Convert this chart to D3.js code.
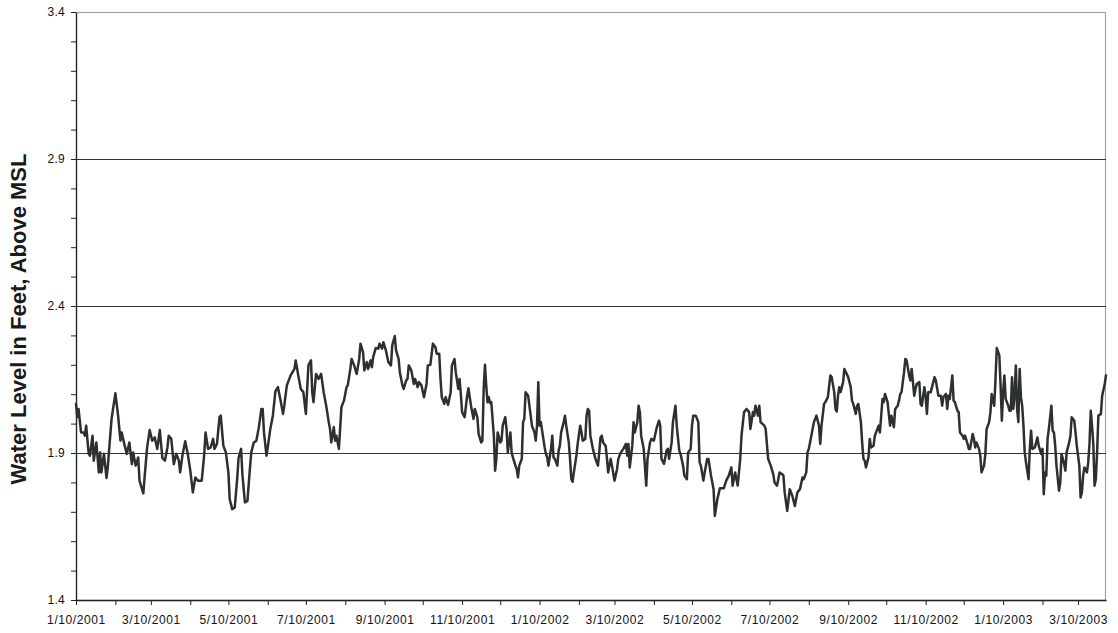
<!DOCTYPE html>
<html>
<head>
<meta charset="utf-8">
<script src="https://cdn.jsdelivr.net/npm/d3@7"></script>
<style>
  html, body { margin: 0; padding: 0; background: #ffffff; }
  svg { display: block; font-family: "Liberation Sans", Arial, Helvetica, sans-serif; }
</style>
</head>
<body>
<svg id="chart" width="1118" height="633"></svg>
<script>
// Gauge record: water level (ft above MSL), days counted from the first reading.
const startDate = "1/10/2001";

const dayOffset = [
  0, 1, 2, 4, 6, 7, 8, 10, 11, 13, 14, 16, 18, 19, 20, 22, 24, 25, 28, 31,
  33, 35, 36, 38, 40, 42, 44, 45, 47, 49, 50, 53, 54, 56, 58, 60, 62, 64, 66, 68,
  70, 72, 73, 75, 77, 79, 81, 82, 84, 86, 88, 90, 92, 94, 96, 99, 101, 102, 104, 106,
  108, 109, 111, 113, 114, 116, 118, 120, 121, 123, 125, 127, 128, 130, 131, 133, 135, 137, 138, 140,
  142, 144, 146, 147, 148, 150, 151, 153, 155, 157, 159, 161, 163, 164, 166, 169, 172, 173, 175, 177,
  179, 181, 183, 185, 186, 187, 189, 191, 193, 195, 197, 199, 200, 201, 203, 204, 205, 207, 209, 211,
  213, 214, 216, 217, 219, 221, 223, 224, 226, 227, 229, 230, 232, 233, 234, 236, 238, 239, 241, 242,
  244, 246, 248, 249, 251, 252, 254, 255, 257, 258, 260, 261, 262, 264, 266, 267, 269, 270, 272, 274,
  276, 277, 279, 281, 283, 284, 286, 287, 288, 290, 291, 293, 295, 296, 298, 299, 301, 302, 303, 304,
  306, 308, 309, 311, 313, 314, 316, 317, 319, 320, 321, 322, 323, 324, 325, 326, 327, 329, 330, 331,
  332, 334, 335, 336, 338, 339, 340, 342, 343, 344, 346, 347, 348, 349, 351, 352, 353, 354, 356, 357,
  358, 359, 361, 362, 363, 364, 365, 366, 368, 369, 370, 371, 372, 374, 375, 376, 377, 379, 380, 381,
  382, 384, 385, 386, 388, 389, 390, 391, 392, 394, 395, 397, 398, 399, 401, 402, 403, 404, 405, 407,
  409, 411, 412, 413, 414, 415, 417, 418, 419, 421, 422, 424, 426, 427, 429, 431, 433, 434, 435, 436,
  438, 439, 440, 442, 443, 444, 445, 447, 449, 450, 452, 453, 455, 457, 459, 460, 461, 463, 465, 466,
  467, 469, 470, 472, 473, 475, 476, 478, 479, 481, 482, 484, 485, 486, 488, 490, 491, 492, 494, 495,
  497, 498, 500, 502, 503, 505, 507, 510, 512, 514, 516, 517, 519, 521, 523, 524, 526, 528, 530, 531,
  533, 534, 535, 537, 538, 539, 542, 543, 545, 547, 549, 550, 552, 554, 556, 557, 558, 560, 562, 564,
  566, 568, 570, 572, 573, 575, 576, 577, 579, 581, 583, 585, 586, 587, 589, 590, 592, 594, 595, 597,
  598, 599, 600, 601, 602, 604, 605, 608, 610, 611, 612, 614, 615, 616, 618, 619, 620, 621, 622, 624,
  625, 626, 628, 629, 631, 632, 633, 635, 636, 637, 639, 640, 641, 642, 644, 645, 647, 648, 649, 650,
  652, 653, 654, 656, 657, 658, 660, 661, 662, 664, 665, 666, 668, 669, 670, 671, 673, 674, 676, 677,
  679, 681, 682, 683, 685, 686, 687, 688, 690, 691, 692, 694, 695, 696, 698, 699, 700, 702, 703, 704,
  706, 707, 708, 709, 711, 712, 713, 715, 716, 717, 719, 720, 721, 723, 724, 725, 727, 728, 729, 730,
  731, 732, 734, 735, 736, 737, 738, 739, 740, 741, 742, 743, 744, 745, 746, 747, 748, 750, 751, 752,
  753, 755, 756, 757, 758, 760, 761, 762, 763, 764, 765, 766, 768, 769, 770, 771, 772, 774, 775, 776,
  778, 779, 780, 782, 783, 784, 786, 787, 788, 790, 791, 792, 793, 794, 796, 797, 798, 799, 800, 801,
  802, 803, 804, 805, 807, 808, 810, 811
];

const waterLevel = [
  2.067, 2.022, 2.05, 1.97, 1.97, 1.959, 1.993, 1.897, 1.891, 1.959, 1.874, 1.936, 1.834, 1.902, 1.834, 1.897, 1.815, 1.851, 2.016, 2.103,
  2.033, 1.942, 1.97, 1.931, 1.897, 1.936, 1.862, 1.902, 1.857, 1.885, 1.806, 1.763, 1.817, 1.919, 1.978, 1.942, 1.953, 1.914, 1.978, 1.883,
  1.874, 1.919, 1.959, 1.948, 1.862, 1.897, 1.874, 1.834, 1.897, 1.94, 1.897, 1.84, 1.766, 1.817, 1.806, 1.806, 1.897, 1.97, 1.914, 1.919,
  1.948, 1.914, 1.931, 2.022, 2.027, 1.925, 1.902, 1.834, 1.743, 1.709, 1.715, 1.817, 1.883, 1.914, 1.828, 1.732, 1.737, 1.851, 1.902, 1.936,
  1.942, 1.988, 2.05, 2.05, 1.97, 1.891, 1.919, 1.982, 2.027, 2.11, 2.124, 2.08, 2.033, 2.061, 2.13, 2.164, 2.186, 2.215, 2.164, 2.118,
  2.107, 2.033, 2.198, 2.215, 2.107, 2.073, 2.169, 2.152, 2.169, 2.107, 2.061, 2.005, 1.982, 1.936, 1.988, 1.942, 1.959, 1.914, 2.056, 2.078,
  2.124, 2.13, 2.186, 2.22, 2.198, 2.169, 2.22, 2.272, 2.243, 2.181, 2.209, 2.186, 2.215, 2.192, 2.226, 2.257, 2.255, 2.272, 2.255, 2.277,
  2.249, 2.209, 2.198, 2.266, 2.298, 2.249, 2.22, 2.175, 2.13, 2.118, 2.147, 2.152, 2.198, 2.181, 2.135, 2.152, 2.124, 2.141, 2.13, 2.09,
  2.135, 2.198, 2.2, 2.272, 2.26, 2.238, 2.238, 2.152, 2.09, 2.067, 2.09, 2.064, 2.107, 2.198, 2.22, 2.175, 2.118, 2.152, 2.101, 2.039,
  2.022, 2.095, 2.12, 2.061, 2.016, 2.05, 2.022, 1.965, 1.936, 1.942, 2.118, 2.2, 2.13, 2.073, 2.09, 2.07, 2.073, 1.959, 1.84, 1.88,
  1.97, 1.936, 1.942, 1.993, 2.022, 1.982, 1.902, 1.97, 1.902, 1.885, 1.857, 1.845, 1.817, 1.857, 1.88, 2.005, 2.016, 2.107, 2.095, 2.061,
  2.027, 1.993, 1.97, 1.942, 1.993, 2.141, 1.993, 2.005, 1.948, 1.919, 1.897, 1.885, 1.857, 1.914, 1.959, 1.885, 1.88, 1.857, 1.908, 1.925,
  1.97, 2.005, 2.027, 1.993, 1.936, 1.88, 1.811, 1.802, 1.834, 1.891, 1.931, 1.993, 1.97, 1.942, 1.948, 2.027, 2.05, 2.044, 1.959, 1.914,
  1.88, 1.857, 1.902, 1.953, 1.959, 1.936, 1.925, 1.885, 1.834, 1.88, 1.857, 1.806, 1.845, 1.88, 1.902, 1.914, 1.931, 1.891, 1.931, 1.851,
  1.925, 2.005, 1.97, 2.005, 2.061, 2.039, 1.959, 1.914, 1.789, 1.88, 1.936, 1.948, 1.942, 1.982, 2.01, 1.993, 1.88, 1.863, 1.908, 1.914,
  1.88, 1.936, 2.005, 2.061, 1.993, 1.908, 1.897, 1.857, 1.823, 1.811, 1.902, 1.914, 1.993, 2.027, 2.027, 2.005, 1.868, 1.857, 1.806, 1.834,
  1.88, 1.88, 1.823, 1.777, 1.686, 1.743, 1.78, 1.78, 1.806, 1.823, 1.851, 1.789, 1.834, 1.789, 1.88, 1.959, 2.039, 2.05, 2.039, 1.982,
  2.039, 2.027, 2.061, 2.027, 2.061, 2.005, 1.993, 1.982, 1.88, 1.857, 1.828, 1.8, 1.789, 1.834, 1.828, 1.823, 1.766, 1.703, 1.777, 1.755,
  1.72, 1.766, 1.777, 1.817, 1.811, 1.834, 1.902, 1.914, 1.959, 2.005, 2.027, 1.993, 1.931, 1.993, 2.067, 2.073, 2.09, 2.164, 2.158, 2.107,
  2.05, 2.041, 2.095, 2.124, 2.107, 2.141, 2.186, 2.158, 2.124, 2.078, 2.067, 2.033, 2.061, 2.067, 2.005, 1.936, 1.88, 1.874, 1.851, 1.885,
  1.948, 1.919, 1.925, 1.959, 1.982, 1.993, 1.97, 2.084, 2.073, 2.101, 2.073, 2.033, 1.993, 2.027, 1.988, 2.05, 2.061, 2.078, 2.101, 2.107,
  2.175, 2.22, 2.215, 2.164, 2.147, 2.186, 2.095, 2.118, 2.135, 2.141, 2.067, 2.061, 2.124, 2.09, 2.033, 2.107, 2.107, 2.124, 2.158, 2.147,
  2.095, 2.095, 2.061, 2.09, 2.101, 2.05, 2.095, 2.084, 2.164, 2.078, 2.073, 2.044, 2.039, 1.97, 1.959, 1.948, 1.959, 1.931, 1.914, 1.914,
  1.965, 1.948, 1.919, 1.936, 1.914, 1.891, 1.834, 1.857, 1.897, 1.982, 2.005, 2.039, 2.101, 2.061, 2.152, 2.257, 2.232, 2.13, 2.01, 2.107,
  2.164, 2.084, 2.061, 2.044, 2.044, 2.158, 2.05, 2.095, 2.198, 2.05, 2.005, 2.186, 2.09, 2.061, 1.993, 1.902, 1.868, 1.811, 1.914, 1.976,
  1.914, 1.919, 1.936, 1.953, 1.925, 1.897, 1.914, 1.76, 1.834, 1.823, 1.948, 1.982, 2.061, 1.976, 1.97, 1.925, 1.857, 1.772, 1.8, 1.897,
  1.863, 1.84, 1.902, 1.936, 1.959, 2.022, 2.01, 1.97, 1.925, 1.857, 1.749, 1.766, 1.823, 1.851, 1.834, 1.868, 1.931, 2.044, 1.993, 1.931,
  1.789, 1.811, 1.902, 2.027, 2.033, 2.095, 2.135, 2.164
];

// Axis settings
const levelDomain = [1.4, 3.4];
const levelLabels = ["1.4", "1.9", "2.4", "2.9", "3.4"];
const gridLevels = [1.9, 2.4, 2.9];
const dateLabels = [
  "1/10/2001", "3/10/2001", "5/10/2001", "7/10/2001", "9/10/2001", "11/10/2001",
  "1/10/2002", "3/10/2002", "5/10/2002", "7/10/2002", "9/10/2002", "11/10/2002",
  "1/10/2003", "3/10/2003"
];
const axisTitle = "Water Level in Feet, Above MSL";

// ---------------------------------------------------------------------------
const margin = { top: 12, right: 12, bottom: 33, left: 76 };
const svg = d3.select("#chart");
const W = +svg.attr("width"), H = +svg.attr("height");
const width = W - margin.left - margin.right;
const height = H - margin.top - margin.bottom;

const parseDate = d3.timeParse("%m/%d/%Y");
const start = parseDate(startDate);
const records = dayOffset.map((d, i) => ({ date: d3.timeDay.offset(start, d), level: waterLevel[i] }));

const x = d3.scaleTime().domain(d3.extent(records, d => d.date)).range([0, width]);
const y = d3.scaleLinear().domain(levelDomain).range([height, 0]);

const g = svg.append("g").attr("transform", `translate(${margin.left},${margin.top})`);

// Plot frame (top and right edges in light gray)
g.append("rect")
  .attr("x", 0.5).attr("y", 0.5)
  .attr("width", width - 1).attr("height", height)
  .attr("fill", "none").attr("stroke", "#a3a3a3").attr("stroke-width", 1.2);

// Horizontal gridlines
g.append("g").selectAll("line")
  .data(gridLevels)
  .join("line")
  .attr("x1", 0).attr("x2", width)
  .attr("y1", d => Math.round(y(d)) + 0.5).attr("y2", d => Math.round(y(d)) + 0.5)
  .attr("stroke", "#333333").attr("stroke-width", 1);

// Y axis: minor ticks every 0.1 ft, labels every 0.5 ft
const yTicks = d3.range(14, 35).map(v => v / 10);
const labelSet = new Set(levelLabels);
const yAxis = d3.axisLeft(y)
  .tickValues(yTicks)
  .tickSize(5)
  .tickSizeOuter(0)
  .tickPadding(6)
  .tickFormat(d => { const s = d3.format(".1f")(d); return labelSet.has(s) ? s : ""; });

const gy = g.append("g").call(yAxis);
gy.select(".domain").attr("stroke", "#222").attr("stroke-width", 1.3);
gy.selectAll(".tick line").attr("stroke", "#222");
gy.selectAll(".tick text")
  .attr("fill", "#111")
  .style("font-size", "12px")
  .style("letter-spacing", "0.3px");

// X axis: monthly ticks on the 10th, labels every other month
const firstTick = parseDate(dateLabels[0]);
const lastTick = parseDate(dateLabels[dateLabels.length - 1]);
const monthTicks = d3.range(d3.timeMonth.count(firstTick, lastTick) + 1)
  .map(i => d3.timeMonth.offset(firstTick, i));
const fmt = d3.timeFormat("%-m/%-d/%Y");
const labelDates = new Set(dateLabels);

const xAxis = d3.axisBottom(x)
  .tickValues(monthTicks)
  .tickSize(5)
  .tickSizeOuter(0)
  .tickPadding(10)
  .tickFormat(d => labelDates.has(fmt(d)) ? fmt(d) : "");

const gx = g.append("g").attr("transform", `translate(0,${height})`).call(xAxis);
gx.select(".domain").attr("stroke", "#222").attr("stroke-width", 1.3);
gx.selectAll(".tick line").attr("stroke", "#222");
gx.selectAll(".tick text")
  .attr("fill", "#111")
  .style("font-size", "12px")
  .style("letter-spacing", "0.6px");

// Water level trace
const line = d3.line()
  .x(d => x(d.date))
  .y(d => y(d.level));

g.append("path")
  .datum(records)
  .attr("fill", "none")
  .attr("stroke", "#2c312e")
  .attr("stroke-width", 2.5)
  .attr("stroke-linejoin", "round")
  .attr("stroke-linecap", "round")
  .attr("d", line);

// Y axis title
svg.append("text")
  .attr("transform", `translate(26,${margin.top + height / 2 + 13}) rotate(-90)`)
  .attr("text-anchor", "middle")
  .attr("fill", "#1a1a1a")
  .style("font-size", "22px")
  .style("font-weight", "bold")
  .text(axisTitle);
</script>
</body>
</html>
